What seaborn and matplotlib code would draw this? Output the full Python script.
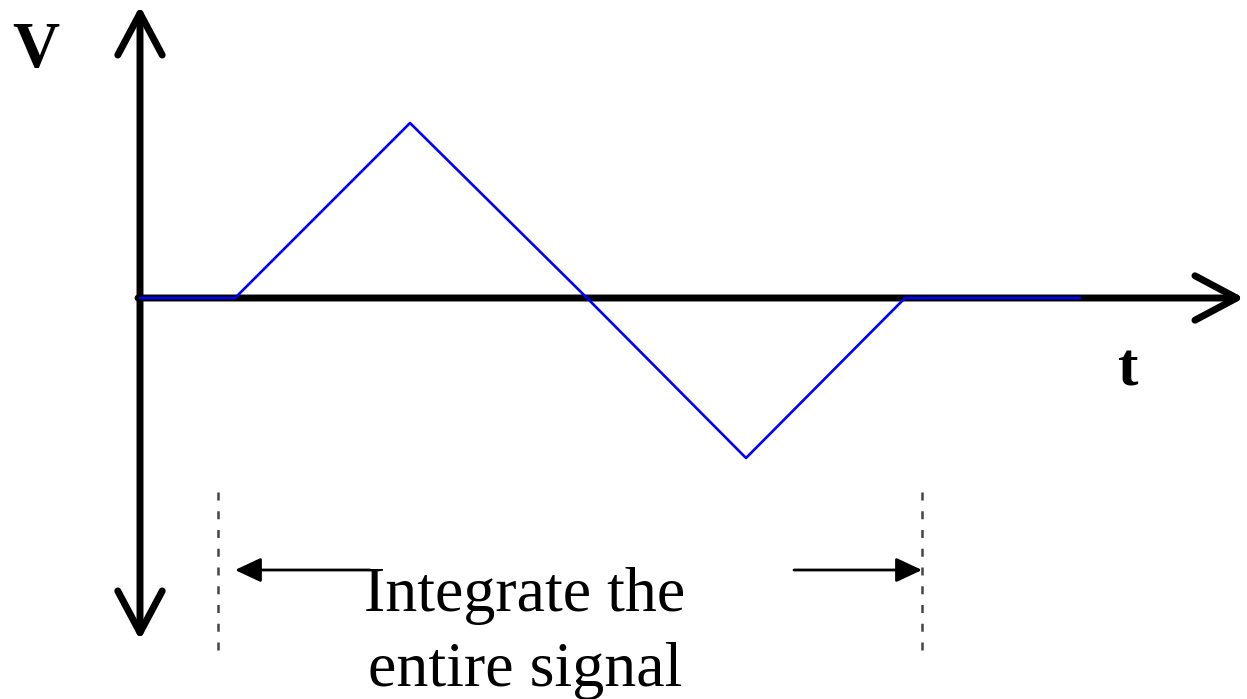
import matplotlib
matplotlib.use("Agg")
import matplotlib.pyplot as plt
import pandas as pd
import seaborn as sns

# signal (t, V), origin at the axis crossing
t_vals = [0, 95, 270, 447, 606, 765, 940]
v_vals = [0, 0, 175, 0, -160, 0, 0]

# integration window (dashed marks) and label
window_start = 78
window_end = 782
label_lines = ["Integrate the", "entire signal"]

sns.set_style("white")
plt.rcParams["font.family"] = ["Liberation Serif", "DejaVu Serif"]
plt.rcParams["text.color"] = "black"

fig = plt.figure(figsize=(12.47, 6.99), dpi=100)
ax = fig.add_axes([0, 0, 1, 1])
ax.set_xlim(-140, 1107)
ax.set_ylim(-401, 298)
ax.axis("off")

# ----------------------------
# Axes with open arrow heads
# ----------------------------
axis_props = dict(arrowstyle="->,head_length=30,head_width=16", mutation_scale=1,
                  lw=5, color="black", shrinkA=0, shrinkB=0,
                  capstyle="round", joinstyle="round")
ax.annotate("", xy=(0, 292), xytext=(0, -342),
            arrowprops=dict(axis_props, arrowstyle="<->,head_length=30,head_width=16"))
ax.annotate("", xy=(1104, 0), xytext=(-2, 0), arrowprops=axis_props)

ax.text(-104, 231, "V", fontsize=47, fontweight="bold", ha="center", va="baseline")
ax.text(988, -87, "t", fontsize=44, fontweight="bold", ha="center", va="baseline")

# ----------------------------
# Signal
# ----------------------------
df = pd.DataFrame({"t": t_vals, "V": v_vals})
sns.lineplot(data=df, x="t", y="V", sort=False, estimator=None,
             color="#0000ff", lw=1.9, ax=ax, zorder=5)

# ----------------------------
# Integration window
# ----------------------------
for x in (window_start, window_end):
    ax.plot([x, x], [-194, -352], color="#444444", lw=1.8, dashes=(3.2, 4.3))

head_props = dict(arrowstyle="-|>,head_length=16,head_width=7.5", mutation_scale=1,
                  lw=2, color="black", shrinkA=0, shrinkB=0)
ax.annotate("", xy=(95, -272), xytext=(230, -272), arrowprops=head_props)
ax.annotate("", xy=(window_end, -272), xytext=(654, -272), arrowprops=head_props)

ax.text(385, -313, label_lines[0], fontsize=46, ha="center", va="baseline", color="black")
ax.text(385, -388, label_lines[1], fontsize=46, ha="center", va="baseline", color="black")

fig.savefig("out.png", dpi=100)
plt.close(fig)
